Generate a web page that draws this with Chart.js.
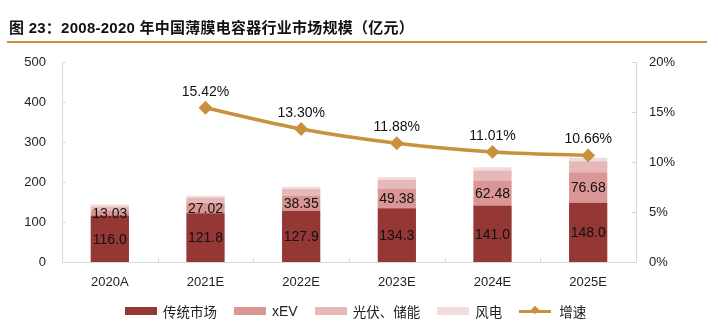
<!DOCTYPE html>
<html>
<head>
<meta charset="utf-8">
<script src="https://cdn.jsdelivr.net/npm/chart.js@4.4.0/dist/chart.umd.min.js"></script>
<style>
  html, body { margin: 0; padding: 0; background: #fff; }
  #wrap { position: relative; width: 718px; height: 323px; overflow: hidden; }
  #chart { position: absolute; left: 0; top: 0; }
  #title {
    position: absolute; left: 9px; top: 16px;
    font: bold 15px "Liberation Sans", Arial, "Noto Sans CJK SC", sans-serif;
    letter-spacing: 0.25px;
    color: #111; white-space: nowrap;
  }
  #rule { position: absolute; left: 7px; top: 41px; width: 700px; height: 1.5px; background: #c9913f; }
  #legend {
    position: absolute; left: 125px; top: 301px; display: flex; align-items: center;
    font: 13.5px "Noto Sans CJK SC", sans-serif; color: #222; white-space: nowrap;
  }
  .item { display: flex; align-items: center; margin-right: 17px; }
  .box { width: 32px; height: 8px; margin-right: 6px; }
  .latin { font: 14px "Liberation Sans", Arial, sans-serif; }
  .lineSample { position: relative; width: 32px; height: 3px; margin-right: 8px; }
  .lineSample i { position: absolute; left: 13px; top: -2.5px; width: 6px; height: 6px; transform: rotate(45deg); }
</style>
</head>
<body>
<div id="wrap">
  <canvas id="chart" width="718" height="323"></canvas>
  <div id="title">图 23：2008-2020 年中国薄膜电容器行业市场规模（亿元）</div>
  <div id="rule"></div>
  <div id="legend"></div>
</div>
<script>
// 年份
const years = ['2020A', '2021E', '2022E', '2023E', '2024E', '2025E'];
// 各下游市场规模（亿元）
const traditional = [116.0, 121.8, 127.9, 134.3, 141.0, 148.0];
const xev = [13.03, 27.02, 38.35, 49.38, 62.48, 76.68];
const pvStorage = [10, 12, 16, 22, 25, 27];
const wind = [5, 5, 6, 7, 8.5, 9];
// 增速
const growth = [null, 0.1542, 0.1330, 0.1188, 0.1101, 0.1066];

const leftTicks = [0, 100, 200, 300, 400, 500];
const rightTicks = [0, 0.05, 0.10, 0.15, 0.20];

const colors = {
  traditional: '#953735',
  xev: '#d99694',
  pv: '#e6b9b8',
  wind: '#f2dcdb',
  growth: '#c9913f'
};

// 柱内数值与折线数值
const valueLabels = {
  id: 'valueLabels',
  afterDatasetsDraw(chart) {
    const ctx = chart.ctx;
    ctx.save();
    ctx.fillStyle = '#111';
    ctx.font = '14px "Liberation Sans", Arial, sans-serif';
    ctx.textAlign = 'center';
    ctx.textBaseline = 'middle';
    [[0, 1], [1, 2]].forEach(([di, digits]) => {
      const ds = chart.data.datasets[di];
      chart.getDatasetMeta(di).data.forEach((el, i) => {
        ctx.fillText(ds.data[i].toFixed(digits), el.x, (el.y + el.base) / 2 + 1);
      });
    });
    const lineDs = chart.data.datasets[4];
    chart.getDatasetMeta(4).data.forEach((el, i) => {
      const v = lineDs.data[i];
      if (v == null) return;
      ctx.fillText((v * 100).toFixed(2) + '%', el.x, el.y - 16);
    });
    ctx.restore();
  }
};

// 坐标轴内侧刻度线
const innerTicks = {
  id: 'innerTicks',
  afterDraw(chart) {
    const ctx = chart.ctx;
    const { x, y, y1 } = chart.scales;
    const area = chart.chartArea;
    ctx.save();
    ctx.strokeStyle = '#d9d9d9';
    ctx.lineWidth = 1;
    ctx.beginPath();
    y.ticks.forEach(t => {
      const py = Math.round(y.getPixelForValue(t.value)) + 0.5;
      ctx.moveTo(area.left, py);
      ctx.lineTo(area.left + 4, py);
    });
    y1.ticks.forEach(t => {
      const py = Math.round(y1.getPixelForValue(t.value)) + 0.5;
      ctx.moveTo(area.right, py);
      ctx.lineTo(area.right - 4, py);
    });
    const step = (area.right - area.left) / years.length;
    for (let i = 1; i < years.length; i++) {
      const px = Math.round(area.left + step * i) + 0.5;
      ctx.moveTo(px, area.bottom);
      ctx.lineTo(px, area.bottom - 4);
    }
    ctx.stroke();
    ctx.restore();
  }
};

const tickFont = { family: '"Liberation Sans", Arial, sans-serif', size: 13 };

new Chart(document.getElementById('chart'), {
  data: {
    labels: years,
    datasets: [
      { type: 'bar', label: '传统市场', data: traditional, backgroundColor: colors.traditional, stack: 's', yAxisID: 'y', order: 2 },
      { type: 'bar', label: 'xEV', data: xev, backgroundColor: colors.xev, stack: 's', yAxisID: 'y', order: 2 },
      { type: 'bar', label: '光伏、储能', data: pvStorage, backgroundColor: colors.pv, stack: 's', yAxisID: 'y', order: 2 },
      { type: 'bar', label: '风电', data: wind, backgroundColor: colors.wind, stack: 's', yAxisID: 'y', order: 2 },
      {
        type: 'line', label: '增速', data: growth, yAxisID: 'y1', order: 1,
        borderColor: colors.growth, backgroundColor: colors.growth, borderWidth: 3.5,
        tension: 0.3, pointStyle: 'rectRot', pointRadius: 4.5, spanGaps: false
      }
    ]
  },
  options: {
    responsive: false,
    animation: false,
    layout: { padding: { top: 62, left: 0, right: 0, bottom: 0 } },
    plugins: { legend: { display: false }, tooltip: { enabled: false } },
    datasets: { bar: { categoryPercentage: 1, barPercentage: 0.4 } },
    scales: {
      x: {
        stacked: true,
        grid: { display: false },
        border: { display: true, color: '#d9d9d9' },
        ticks: { color: '#222', font: tickFont, padding: 5, maxRotation: 0 },
        afterFit(s) { s.height = 61; }
      },
      y: {
        stacked: true, position: 'left', min: 0, max: 500,
        afterBuildTicks(s) { s.ticks = leftTicks.map(v => ({ value: v })); },
        grid: { display: false },
        border: { display: true, color: '#d9d9d9' },
        ticks: { color: '#222', font: tickFont, padding: 8 },
        afterFit(s) { s.width = 62; }
      },
      y1: {
        position: 'right', min: 0, max: 0.2,
        afterBuildTicks(s) { s.ticks = rightTicks.map(v => ({ value: v })); },
        grid: { display: false },
        border: { display: true, color: '#d9d9d9' },
        ticks: { color: '#222', font: tickFont, padding: 5, callback: v => Math.round(v * 100) + '%' },
        afterFit(s) { s.width = 82; }
      }
    }
  },
  plugins: [valueLabels, innerTicks]
});

// 图例
const legendItems = [
  { name: '传统市场', color: colors.traditional },
  { name: 'xEV', color: colors.xev, latin: true },
  { name: '光伏、储能', color: colors.pv },
  { name: '风电', color: colors.wind },
  { name: '增速', color: colors.growth, line: true }
];
const legendEl = document.getElementById('legend');
legendItems.forEach(it => {
  const item = document.createElement('div');
  item.className = 'item';
  if (it.line) {
    item.innerHTML = `<span class="lineSample" style="background:${it.color}"><i style="background:${it.color}"></i></span>`;
  } else {
    item.innerHTML = `<span class="box" style="background:${it.color}"></span>`;
  }
  const label = document.createElement('span');
  label.textContent = it.name;
  if (it.latin) label.className = 'latin';
  item.appendChild(label);
  legendEl.appendChild(item);
});
</script>
</body>
</html>
